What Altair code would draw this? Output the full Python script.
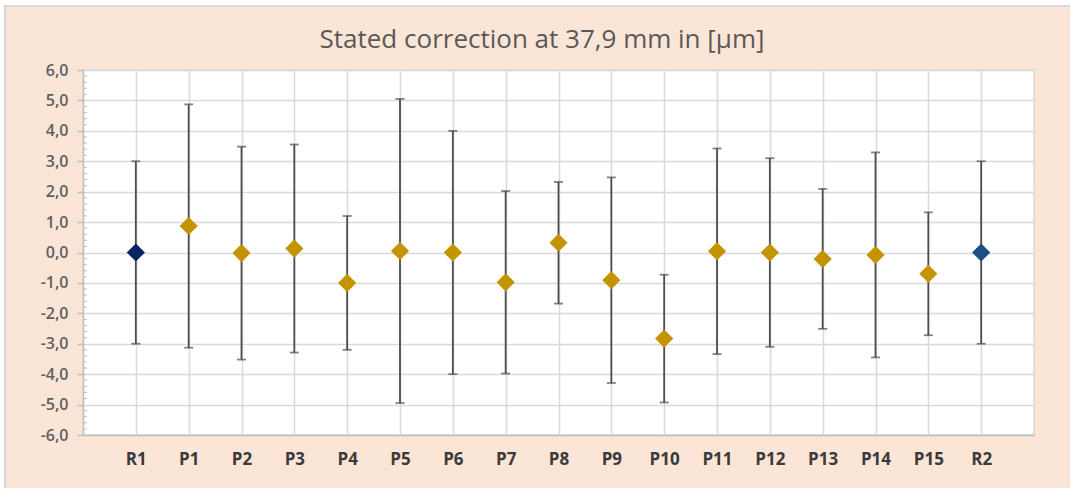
import altair as alt
import pandas as pd

categories = ["R1", "P1", "P2", "P3", "P4", "P5", "P6", "P7", "P8", "P9",
              "P10", "P11", "P12", "P13", "P14", "P15", "R2"]
values = [0.0, 0.87, -0.02, 0.13, -1.0, 0.05, 0.0, -0.98, 0.32, -0.91,
          -2.83, 0.04, 0.0, -0.21, -0.08, -0.7, 0.0]
uncertainties = [3.0, 4.0, 3.5, 3.42, 2.2, 5.0, 4.0, 3.0, 2.0, 3.38,
                 2.1, 3.38, 3.1, 2.3, 3.37, 2.02, 3.0]
point_colors = ["#0A2463"] + ["#C49300"] * 15 + ["#1F4E85"]
y_ticks = [-6, -5, -4, -3, -2, -1, 0, 1, 2, 3, 4, 5, 6]
minor_ticks = [-5.8, -5.6, -5.4, -5.2, -4.8, -4.6, -4.4, -4.2, -3.8, -3.6, -3.4, -3.2,
               -2.8, -2.6, -2.4, -2.2, -1.8, -1.6, -1.4, -1.2, -0.8, -0.6, -0.4, -0.2,
               0.2, 0.4, 0.6, 0.8, 1.2, 1.4, 1.6, 1.8, 2.2, 2.4, 2.6, 2.8,
               3.2, 3.4, 3.6, 3.8, 4.2, 4.4, 4.6, 4.8, 5.2, 5.4, 5.6, 5.8]
title_text = "Stated correction at 37,9 mm in [\u00b5m]"

df = pd.DataFrame({
    "cat": categories,
    "value": values,
    "lo": [v - u for v, u in zip(values, uncertainties)],
    "hi": [v + u for v, u in zip(values, uncertainties)],
    "color": point_colors,
})

FONT = "Open Sans"
GRID = "#d9d9d9"

x_axis = alt.Axis(title=None, labelAngle=0, labelFont=FONT, labelFontSize=17,
                  labelFontWeight="bold", labelColor="#3a3a3a", ticks=False, tickSize=0,
                  labelPadding=16, domainColor="#bfbfbf", domainWidth=1.5,
                  grid=True, gridColor=GRID, gridWidth=1.5)
y_axis = alt.Axis(title=None, values=y_ticks,
                  labelExpr="replace(replace(format(datum.value, '.1f'), '.', ','), '\u2212', '-')",
                  labelFont=FONT, labelFontSize=16, labelFontWeight=600, labelColor="#5f5f5f",
                  tickSize=6, tickColor="#bfbfbf", tickWidth=1.5,
                  domainColor="#bfbfbf", domainWidth=1.5, labelPadding=9,
                  grid=True, gridColor=GRID, gridWidth=1.5)
y_scale = alt.Scale(domain=[-6, 6], nice=False, zero=False)
x_enc = alt.X("cat:N", sort=categories, scale=alt.Scale(type="point", padding=1), axis=x_axis)

base = alt.Chart(df)

bars = base.mark_rule(color="#4d4d4d", strokeWidth=1.8).encode(
    x=x_enc, y=alt.Y("lo:Q", scale=y_scale, axis=y_axis), y2="hi:Q"
)
cap_lo = base.mark_tick(color="#4d4d4d", size=9, thickness=1.8, orient="horizontal").encode(
    x=x_enc, y=alt.Y("lo:Q", scale=y_scale, axis=y_axis)
)
cap_hi = base.mark_tick(color="#4d4d4d", size=9, thickness=1.8, orient="horizontal").encode(
    x=x_enc, y=alt.Y("hi:Q", scale=y_scale, axis=y_axis)
)
points = base.mark_point(shape="diamond", filled=True, size=330, opacity=1).encode(
    x=x_enc, y=alt.Y("value:Q", scale=y_scale, axis=y_axis),
    color=alt.Color("color:N", scale=None, legend=None),
)

minor = alt.Chart(pd.DataFrame({"m": minor_ticks})).mark_rule(
    color="#bfbfbf", strokeWidth=1
).encode(
    y=alt.Y("m:Q", scale=y_scale, axis=y_axis), x=alt.value(0), x2=alt.value(4)
)

title = alt.Chart(pd.DataFrame({"t": [title_text]})).mark_text(
    font=FONT, fontSize=26, color="#595959", align="center", baseline="middle"
).encode(text="t:N", x=alt.value(459), y=alt.value(-30))

one = pd.DataFrame({"k": [0]})
white_left = alt.Chart(one).mark_rect(color="white").encode(
    x=alt.value(-90), x2=alt.value(-78), y=alt.value(-80), y2=alt.value(430)
)
white_top = alt.Chart(one).mark_rect(color="white").encode(
    x=alt.value(-90), x2=alt.value(1000), y=alt.value(-80), y2=alt.value(-64)
)
frame = alt.Chart(one).mark_rect(fill=None, filled=False, stroke="#d9d9d9", strokeWidth=2).encode(
    x=alt.value(-78), x2=alt.value(1000), y=alt.value(-64), y2=alt.value(430)
)

chart = alt.layer(white_left, white_top, frame, minor, bars, cap_lo, cap_hi, points, title).properties(
    width=951, height=365,
    autosize=alt.AutoSizeParams(type="none"),
    padding={"left": 83, "top": 70, "right": 36, "bottom": 53},
    background="#FBE5D6",
).configure_view(fill="white", stroke=GRID, strokeWidth=1.5)

chart.save("out.html", embed_options={"renderer": "svg", "actions": False})
